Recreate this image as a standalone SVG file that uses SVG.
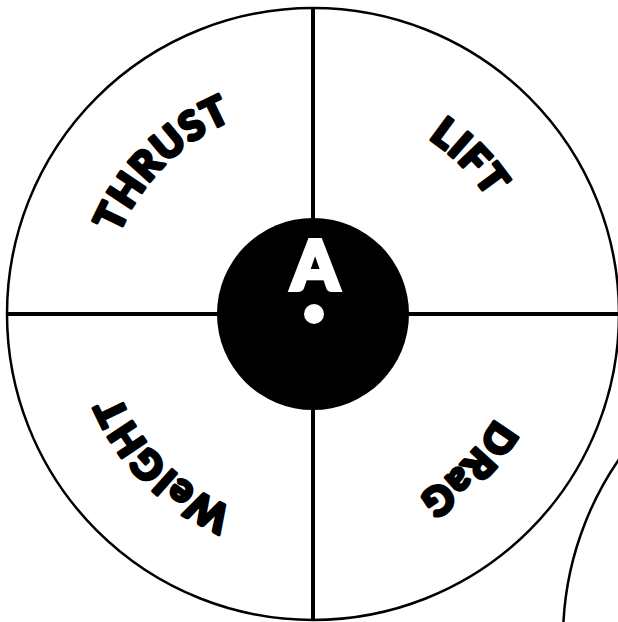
<svg xmlns="http://www.w3.org/2000/svg" xmlns:xlink="http://www.w3.org/1999/xlink" width="618" height="622" viewBox="0 0 618 622">
<style>
.lbl{font-family:Lato,Inter,"DejaVu Sans",sans-serif;font-weight:900;font-size:40px;fill:#000;stroke:#000;stroke-width:3.2;stroke-linejoin:round;letter-spacing:1.5px}
.ring{fill:none;stroke:#000;stroke-width:2.5}
.axis{stroke:#000;stroke-width:4}
</style>
<defs>
<path id="arc" d="M103,314 A210,210 0 1 1 523,314 A210,210 0 1 1 103,314"/>
</defs>
<rect width="618" height="622" fill="#fff"/>
<g id="wheel">
<circle class="ring" cx="313" cy="314" r="306"/>
<circle class="ring" cx="879" cy="639" r="316"/>
</g>
<g id="connectors">
<line class="axis" x1="313" y1="8" x2="313" y2="620"/>
<line class="axis" x1="7" y1="314" x2="618" y2="314"/>
</g>
<g id="thrust"><text class="lbl" text-anchor="middle"><textPath xlink:href="#arc" href="#arc" startOffset="12.5%">THRUST</textPath></text></g>
<g id="lift"><text class="lbl" text-anchor="middle"><textPath xlink:href="#arc" href="#arc" startOffset="37.5%">LIFT</textPath></text></g>
<g id="drag"><text class="lbl" text-anchor="middle"><textPath xlink:href="#arc" href="#arc" startOffset="62.5%">DRaG</textPath></text></g>
<g id="weight"><text class="lbl" text-anchor="middle"><textPath xlink:href="#arc" href="#arc" startOffset="87.5%">WeIGHT</textPath></text></g>
<g id="hub">
<circle cx="313" cy="314" r="96" fill="#000"/>
<text x="315" y="290" text-anchor="middle" style="font-family:Lato,Inter,'DejaVu Sans',sans-serif;font-weight:900;font-size:68px;fill:#fff;stroke:#fff;stroke-width:4;stroke-linejoin:miter;letter-spacing:0">A</text>
<circle cx="314" cy="314" r="10" fill="#fff"/>
</g>
</svg>
